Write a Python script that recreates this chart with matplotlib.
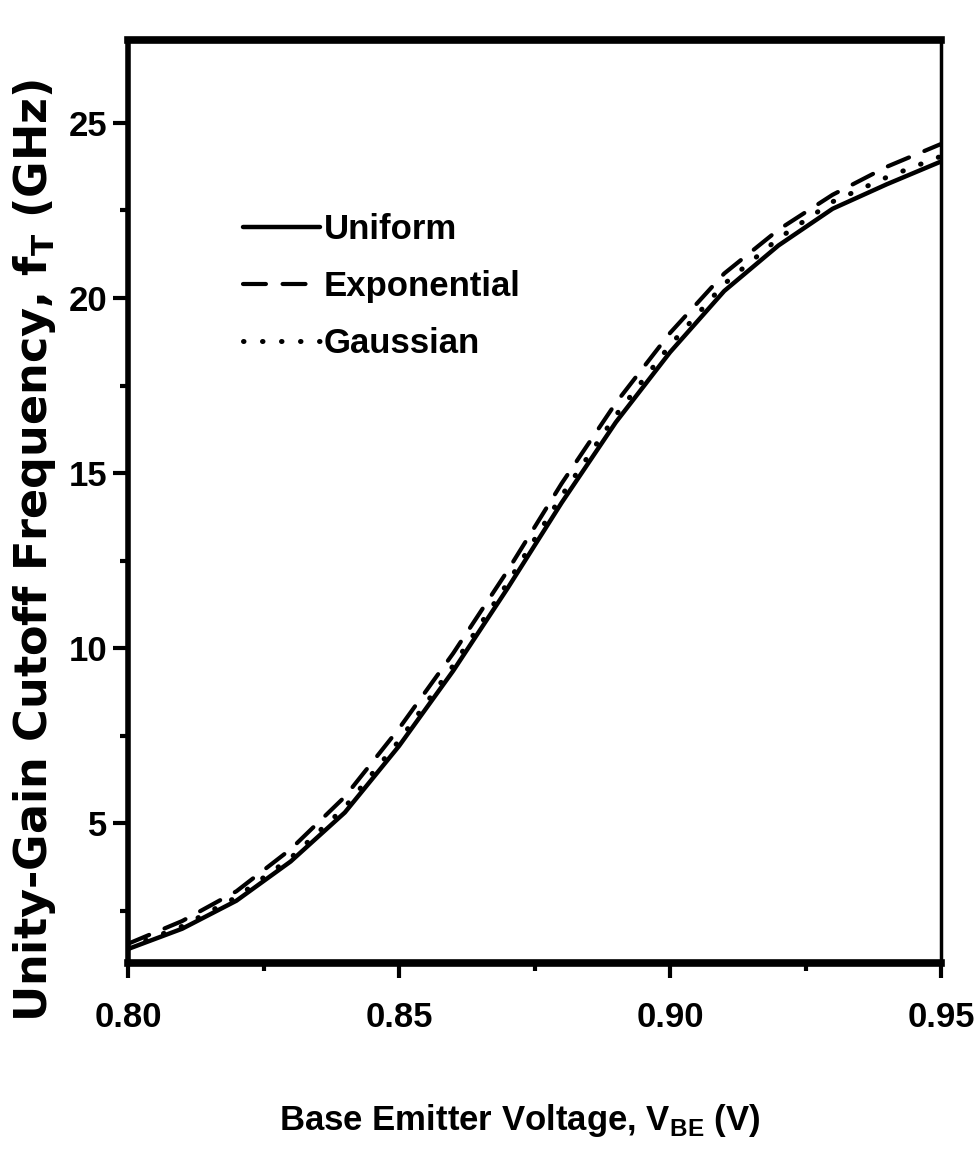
import matplotlib
matplotlib.use('Agg')
import matplotlib.pyplot as plt
from matplotlib.ticker import MultipleLocator

# values
vbe = [0.80, 0.81, 0.82, 0.83, 0.84, 0.85, 0.86, 0.87,
       0.88, 0.89, 0.90, 0.91, 0.92, 0.93, 0.94, 0.95]
ft_uniform = [1.40, 1.98, 2.78, 3.90, 5.30, 7.20, 9.35, 11.70,
              14.15, 16.45, 18.45, 20.20, 21.50, 22.55, 23.25, 23.90]
ft_exponential = [1.55, 2.20, 3.05, 4.25, 5.75, 7.70, 9.85, 12.20,
                  14.70, 17.00, 19.00, 20.70, 21.95, 22.95, 23.75, 24.40]
ft_gaussian = [1.45, 2.05, 2.88, 4.00, 5.45, 7.35, 9.50, 11.85,
               14.35, 16.65, 18.65, 20.40, 21.70, 22.75, 23.45, 24.05]
series_names = ['Uniform', 'Exponential', 'Gaussian']

NARROW = ['Liberation Sans', 'DejaVu Sans']
WIDE = ['DejaVu Sans']

fig = plt.figure(figsize=(9.78, 11.54), dpi=100)
ax = fig.add_axes([0.1309, 0.1655, 0.8313, 0.7998])

ax.plot(vbe, ft_uniform, color='black', lw=3.2, solid_capstyle='round',
        label=series_names[0])
ax.plot(vbe, ft_exponential, color='black', lw=3.0, linestyle=(0, (5.5, 4)),
        dash_capstyle='round', label=series_names[1])
ax.plot(vbe, ft_gaussian, color='black', lw=3.6, linestyle=(0, (0.1, 3.7)),
        dash_capstyle='round', label=series_names[2])

ax.set_xlim(0.80, 0.95)
ax.set_ylim(1.0, 27.37)

ax.xaxis.set_minor_locator(MultipleLocator(0.025))
ax.yaxis.set_minor_locator(MultipleLocator(2.5))
ax.set_xticks([0.80, 0.85, 0.90, 0.95])
ax.set_xticklabels(['0.80', '0.85', '0.90', '0.95'])
ax.set_yticks([5, 10, 15, 20, 25])
ax.set_yticklabels(['5', '10', '15', '20', '25'])

ax.tick_params(which='both', direction='out', width=3, top=False, right=False)
ax.tick_params(axis='x', which='major', length=11, pad=16)
ax.tick_params(axis='y', which='major', length=11, pad=4)
ax.tick_params(which='minor', length=6)
for lab in ax.get_xticklabels() + ax.get_yticklabels():
    lab.set_fontfamily(NARROW)
    lab.set_fontweight('bold')
    lab.set_fontsize(25)

ax.spines['top'].set_linewidth(5.5)
ax.spines['bottom'].set_linewidth(5.5)
ax.spines['left'].set_linewidth(4)
ax.spines['right'].set_linewidth(2.5)

ax.set_xlabel(r'Base Emitter Voltage, V$_\mathregular{BE}$ (V)',
              family=NARROW, weight='bold', fontsize=25)
ax.xaxis.set_label_coords(0.482, -0.181)
ax.xaxis.label.set_va('baseline')

ax.set_ylabel(r'Unity-Gain Cutoff Frequency, f$_\mathregular{T}$ (GHz)',
              family=WIDE, weight='bold', fontsize=32)
ax.yaxis.set_label_coords(-0.086, 0.447)

leg = ax.legend(loc='upper left', bbox_to_anchor=(0.142, 0.8126), frameon=False,
                prop={'family': NARROW, 'weight': 'bold', 'size': 25},
                handlelength=2.19, handletextpad=0.12, labelspacing=0.69,
                borderpad=0, borderaxespad=0)

fig.savefig('out.png', dpi=100)
